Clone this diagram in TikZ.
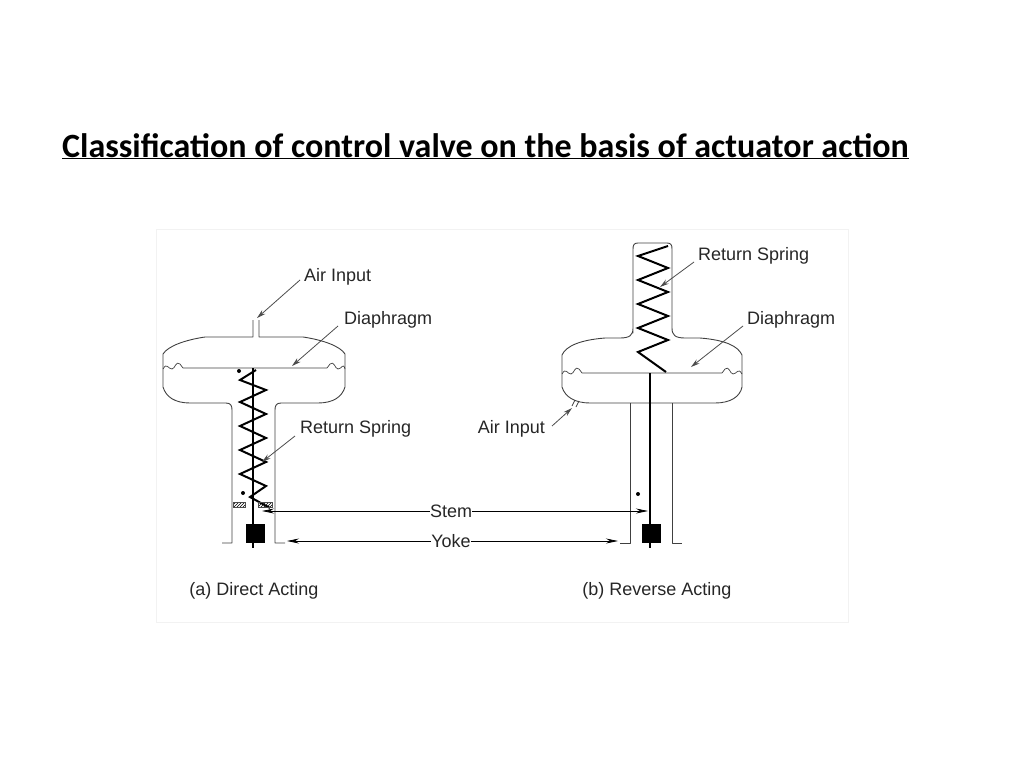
\documentclass[tikz,border=0pt]{standalone}
\usepackage{fontspec}
\usetikzlibrary{arrows.meta,patterns}
\setmainfont{Liberation Sans}
\newfontfamily\titlefont{Carlito}
\begin{document}
\begin{tikzpicture}[x=1pt,y=-1pt,
  body/.style={draw=black!75,line width=0.9pt,line join=round},
  stemline/.style={line width=2.4pt},
  lbl/.style={font=\fontsize{18}{20}\selectfont,text=black!85,inner sep=0pt},
  arr/.style={draw=black!70,line width=0.8pt,-{Stealth[length=9pt,width=5pt]}},
  dimarr/.style={draw=black,line width=0.8pt,-{Stealth[length=12pt,width=5pt]}}]
\useasboundingbox (0,0) rectangle (1024,768);
\draw[black!5] (156,229) rectangle (848,622);
\node[font=\titlefont\bfseries\fontsize{34}{38}\selectfont,anchor=base west,inner sep=0pt] (title) at (62,157) {\underline{Classification of control valve on the basis of actuator action}};
% ===== Left actuator =====
\draw[body] (253,320) -- (253,337) -- (205,337) .. controls (185,340) and (168,346) .. (163,354) -- (163,387)
  .. controls (166,397) and (175,403) .. (190,403) -- (226,403) .. controls (231,403) and (232,406) .. (232,410) -- (232,543) -- (222,543);
\draw[body] (259,320) -- (259,337) -- (303,337) .. controls (323,340) and (340,346) .. (345,354) -- (345,387)
  .. controls (342,397) and (333,403) .. (318,403) -- (281,403) .. controls (276,403) and (275,406) .. (275,410) -- (275,543) -- (285,543);
\draw[body,line width=0.7pt] (163,369) .. controls (167,362) and (168,369) .. (172,369) .. controls (175,369) and (176,360) .. (180,364) -- (183,368) -- (327,368) -- (330,364) .. controls (334,360) and (335,369) .. (338,369) .. controls (342,369) and (343,362) .. (345,369);
\draw[line width=2pt,line join=miter] (256,370) -- (240,380) -- (266,390) -- (240,402) -- (266,414) -- (240,426) -- (266,438) -- (240,450) -- (266,462) -- (240,474) -- (266,486) -- (250,497) -- (270,508);
\draw[stemline] (253,368) -- (253,548);
\node[fill=black,minimum width=19pt,minimum height=19pt,inner sep=0pt] (boxa) at (255,533) {};
\fill (239,371) circle (2pt) (243,493) circle (2pt);
\draw[black!70,pattern=north east lines] (233,502) rectangle (245,507) (258,502) rectangle (272,507);
% ===== Right actuator =====
\draw[body] (633,333) -- (633,249) .. controls (633,245) and (634,243) .. (638,243) -- (667,243) .. controls (671,243) and (672,245) .. (672,249) -- (672,328)
  .. controls (672,335) and (675,338) .. (685,338) -- (700,338) .. controls (725,340) and (738,346) .. (742,355) -- (742,387)
  .. controls (740,397) and (730,403) .. (715,403) -- (590,403) .. controls (575,403) and (565,397) .. (562,387) -- (562,355)
  .. controls (566,346) and (580,340) .. (605,338) -- (620,338) .. controls (630,338) and (633,335) .. (633,328) -- cycle;
\draw[body,line width=0.7pt] (562,374) .. controls (566,367) and (567,374) .. (571,374) .. controls (574,374) and (575,365) .. (579,369) -- (582,373) -- (722,373) -- (725,369) .. controls (729,365) and (730,374) .. (733,374) .. controls (737,374) and (738,367) .. (742,374);
\draw[line width=2pt,line join=miter] (668,246) -- (638,256) -- (668,268) -- (638,280) -- (668,292) -- (638,304) -- (668,316) -- (638,328) -- (668,340) -- (638,352) -- (666,372);
\draw[stemline] (650,373) -- (650,548);
\node[fill=black,minimum width=19pt,minimum height=19pt,inner sep=0pt] (boxb) at (651,533) {};
\draw[body] (630,403) -- (630,543) -- (620,543);
\draw[body] (672,403) -- (672,543) -- (682,543);
\draw[body,line width=0.8pt] (575,400) -- (572,406) (579,401) -- (576,407);
\fill (638,494) circle (2pt);
% ===== Labels =====
\node[lbl,anchor=west] (airA) at (304,277) {Air Input};
\draw[arr] (300,280) -- (257,318);
\node[lbl,anchor=west] (diaA) at (344,320) {Diaphragm};
\draw[arr] (338,326) -- (292,366);
\node[lbl,anchor=west] (retA) at (300,429) {Return Spring};
\draw[arr] (295,436) -- (262,462);
\node[lbl,anchor=west] (retB) at (698,256) {Return Spring};
\draw[arr] (694,262) -- (660,287);
\node[lbl,anchor=west] (diaB) at (747,320) {Diaphragm};
\draw[arr] (743,326) -- (691,367);
\node[lbl,anchor=east] (airB) at (545,429) {Air Input};
\draw[arr] (552,426) -- (572,408);
\node[lbl] (stem) at (451,511) {Stem};
\node[lbl] (yoke) at (451,541) {Yoke};
\coordinate (sa) at (262,511); \coordinate (sb) at (648,511);
\coordinate (ya) at (287,541); \coordinate (yb) at (618,541);
\draw[dimarr] (stem.west) -- (sa);
\draw[dimarr] (stem.east) -- (sb);
\draw[dimarr] (yoke.west) -- (ya);
\draw[dimarr] (yoke.east) -- (yb);
\node[lbl] (capA) at (254,591) {(a) Direct Acting};
\node[lbl] (capB) at (657,591) {(b) Reverse Acting};
\end{tikzpicture}
\end{document}
